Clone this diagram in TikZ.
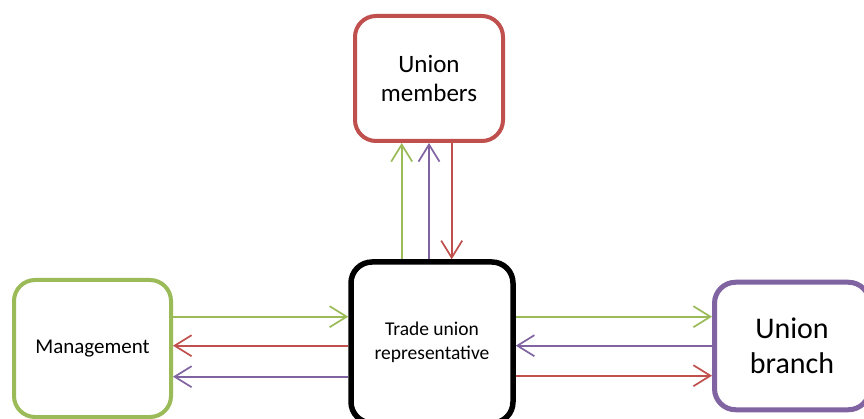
\documentclass[tikz,border=0pt]{standalone}
\usepackage{fontspec}
\setmainfont{Carlito}
\usetikzlibrary{arrows.meta}
\definecolor{ored}{HTML}{C0504D}
\definecolor{ogreen}{HTML}{9BBB59}
\definecolor{opurple}{HTML}{8064A2}
\tikzset{
  box/.style={draw, rectangle, rounded corners=21pt, fill=white, inner sep=0pt,
    align=center, line width=4pt, text=black},
  flow/.style={line width=1.7pt, -{Straight Barb[length=17pt,width=21pt]}},
}
\begin{document}
\begin{tikzpicture}[x=1pt,y=-1pt]
\clip (0,0) rectangle (864,419);
\fill[white] (0,0) rectangle (864,419);

% the four parties
\node[box, draw=ored, minimum width=148pt, minimum height=125pt,
  font=\fontsize{25}{29.5}\selectfont] (members) at (429,78.5) {Union\\members};
\node[box, draw=ogreen, minimum width=157pt, minimum height=137pt,
  font=\fontsize{21}{25}\selectfont] (mgmt) at (92.5,348.5) {Management};
\node[box, draw=black, line width=5.5pt, minimum width=162pt, minimum height=161pt,
  font=\fontsize{19.5}{23.5}\selectfont] (rep) at (432,342.5) {Trade union\\representative};
\node[box, draw=opurple, line width=5pt, minimum width=155pt, minimum height=127.5pt,
  font=\fontsize{30}{35}\selectfont] (branch) at (792,346) {Union\\branch};

% representative <-> members
\draw[flow, ogreen] (rep.north -| 401.7,0) -- (members.south -| 401.7,0);
\draw[flow, opurple] (rep.north -| 429,0) -- (members.south -| 429,0);
\draw[flow, ored] (members.south -| 451.7,0) -- (rep.north -| 451.7,0);

% management <-> representative
\draw[flow, ogreen] (mgmt.east |- 0,316.7) -- (rep.west |- 0,316.7);
\draw[flow, ored] (rep.west |- 0,345.7) -- (mgmt.east |- 0,345.7);
\draw[flow, opurple] (rep.west |- 0,376.7) -- (mgmt.east |- 0,376.7);

% representative <-> branch
\draw[flow, ogreen] (rep.east |- 0,316.7) -- (branch.west |- 0,316.7);
\draw[flow, opurple] (branch.west |- 0,345.7) -- (rep.east |- 0,345.7);
\draw[flow, ored] (rep.east |- 0,375.7) -- (branch.west |- 0,375.7);
\end{tikzpicture}
\end{document}
